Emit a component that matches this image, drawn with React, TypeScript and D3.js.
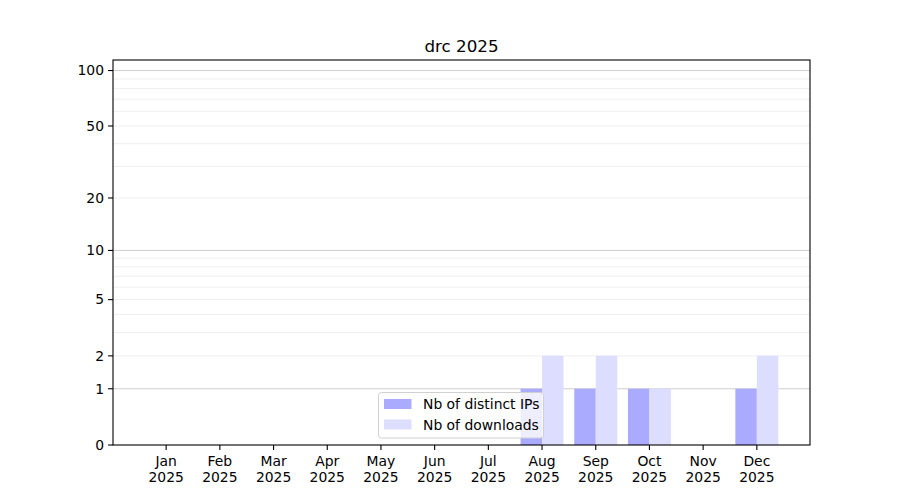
import React from 'react';
import * as d3 from 'd3';

// monthly counts for 2025
const months = ['Jan', 'Feb', 'Mar', 'Apr', 'May', 'Jun', 'Jul', 'Aug', 'Sep', 'Oct', 'Nov', 'Dec'];
const distinctIPs = [0, 0, 0, 0, 0, 0, 0, 1, 1, 1, 0, 1];
const downloads = [0, 0, 0, 0, 0, 0, 0, 2, 2, 1, 0, 2];
const yTicks = [0, 1, 2, 5, 10, 20, 50, 100];
const majorGrid = [1, 10, 100];
const minorGrid = [2, 3, 4, 5, 6, 7, 8, 9, 20, 30, 40, 50, 60, 70, 80, 90];

const W = 900;
const H = 500;
const left = 113;
const right = 810;
const top = 60;
const bottom = 445;
const barW = 0.4;
const font = 'DejaVu Sans, sans-serif';

const App: React.FC = () => {
  // months are evenly spaced
  const x = d3.scaleLinear().domain([-0.99, 11.99]).range([left, right]);

  // values shown on a log(v + 1) axis
  const yLog = d3.scaleLog().domain([1, 115]).range([bottom, top]);
  const y = (v: number) => yLog(v + 1);

  return (
    <svg width={W} height={H} style={{ position: 'absolute', left: 0, top: 0, background: '#fff' }} fontFamily={font}>
      <text x={(left + right) / 2} y={52} textAnchor="middle" fontSize={16.7}>drc 2025</text>

      {minorGrid.map(v => (
        <line key={'mi' + v} x1={left} x2={right} y1={y(v)} y2={y(v)} stroke="#ebebeb" strokeWidth={0.8} />
      ))}
      {majorGrid.map(v => (
        <line key={'ma' + v} x1={left} x2={right} y1={y(v)} y2={y(v)} stroke="#cfcfcf" strokeWidth={1} />
      ))}

      {months.map((m, i) => (
        <g key={'b' + m}>
          <rect
            x={x(i - barW)}
            width={x(i) - x(i - barW)}
            y={y(distinctIPs[i])}
            height={bottom - y(distinctIPs[i])}
            fill="#aaaaff"
          />
          <rect
            x={x(i)}
            width={x(i + barW) - x(i)}
            y={y(downloads[i])}
            height={bottom - y(downloads[i])}
            fill="#ddddff"
          />
        </g>
      ))}

      <rect x={left} y={top} width={right - left} height={bottom - top} fill="none" stroke="#000" strokeWidth={1.1} />

      {yTicks.map(v => (
        <g key={'yt' + v} transform={`translate(0,${y(v)})`}>
          <line x1={left - 4.9} x2={left} stroke="#000" strokeWidth={1.1} />
          <text x={left - 9} dy="0.35em" textAnchor="end" fontSize={13.9}>{v}</text>
        </g>
      ))}

      {months.map((m, i) => (
        <g key={'xt' + m} transform={`translate(${x(i)},${bottom})`}>
          <line y1={0} y2={4.9} stroke="#000" strokeWidth={1.1} />
          <text y={21} textAnchor="middle" fontSize={13.9}>{m}</text>
          <text y={37} textAnchor="middle" fontSize={13.9}>2025</text>
        </g>
      ))}

      <g>
        <rect x={378.5} y={392.5} width={165} height={45.5} rx={3} fill="#fff" fillOpacity={0.8} stroke="#d0d0d0" strokeWidth={1} />
        <rect x={384} y={399} width={27.5} height={10} fill="#aaaaff" />
        <text x={423} y={409} fontSize={13.9}>Nb of distinct IPs</text>
        <rect x={384} y={419.5} width={27.5} height={10} fill="#ddddff" />
        <text x={423} y={430} fontSize={13.9}>Nb of downloads</text>
      </g>
    </svg>
  );
};

export default App;
